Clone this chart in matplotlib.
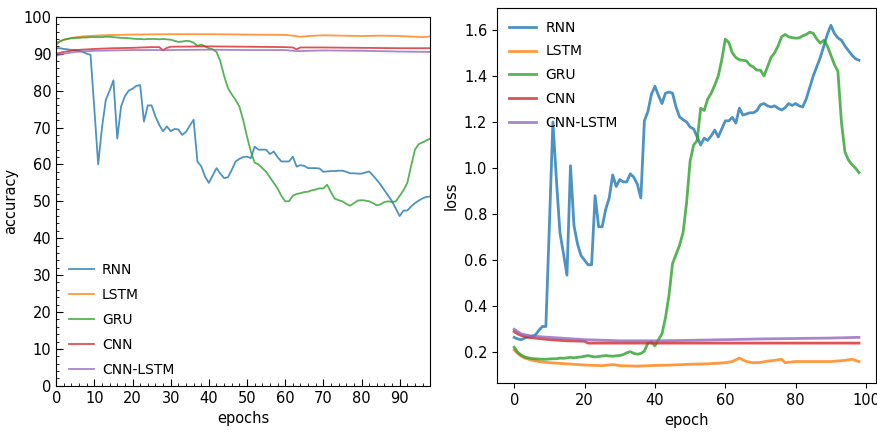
import matplotlib
matplotlib.use('Agg')
import matplotlib.pyplot as plt
from matplotlib.ticker import AutoMinorLocator

names = ['RNN', 'LSTM', 'GRU', 'CNN', 'CNN-LSTM']
colors = ['#1f77b4', '#ff7f0e', '#2ca02c', '#d62728', '#9467bd']

epochs = list(range(99))

# accuracy, one value per epoch
rnn_acc = [91.5, 91.5, 91.3, 91.2, 91.0, 91.0, 90.8, 90.5, 90.0, 89.7,
           75.0, 60.0, 70.0, 77.5, 80.0, 82.8, 67.0, 75.7, 78.5, 80.0,
           80.5, 81.3, 81.5, 71.6, 76.0, 76.0, 73.0, 70.7, 69.0, 70.3,
           69.0, 69.6, 69.5, 68.0, 68.8, 70.5, 72.1, 60.8, 59.5, 56.7,
           55.0, 57.0, 59.0, 57.5, 56.3, 56.5, 58.5, 60.8, 61.5, 62.0,
           62.1, 61.7, 64.8, 64.0, 64.0, 64.0, 62.8, 63.5, 62.0, 60.8,
           60.8, 60.8, 62.1, 59.4, 59.8, 59.6, 59.0, 59.0, 59.0, 58.9,
           58.0, 58.1, 58.2, 58.2, 58.3, 58.3, 58.0, 57.6, 57.6, 57.5,
           57.5, 57.8, 58.1, 57.0, 55.8, 54.5, 53.0, 51.5, 50.0, 48.0,
           46.0, 47.5, 47.5, 48.6, 49.5, 50.2, 50.8, 51.2, 51.3]
gru_acc = [92.5, 93.3, 93.8, 94.0, 94.2, 94.3, 94.3, 94.4, 94.4, 94.5,
           94.5, 94.5, 94.5, 94.6, 94.6, 94.5, 94.4, 94.3, 94.3, 94.2,
           94.1, 94.0, 94.0, 93.9, 94.0, 94.0, 94.0, 93.9, 94.0, 93.9,
           93.8, 93.5, 93.2, 93.3, 93.5, 93.4, 93.0, 92.1, 92.5, 92.0,
           91.5, 91.2, 90.5, 88.0, 84.0, 80.7, 79.0, 77.5, 75.7, 72.0,
           67.5, 63.5, 60.5, 60.0, 59.0, 58.0, 56.5, 55.0, 53.5, 51.5,
           50.0, 50.0, 51.5, 52.0, 52.2, 52.5, 52.6, 53.0, 53.2, 53.5,
           53.5, 54.5, 52.5, 50.7, 50.3, 50.0, 49.3, 48.8, 49.5, 50.2,
           50.3, 50.2, 50.0, 49.5, 48.9, 49.2, 49.8, 50.0, 49.8, 50.0,
           51.5, 53.0, 55.0, 59.6, 64.0, 65.5, 66.0, 66.5, 67.0]
# flatter curves, read at a few epochs
lstm_acc_ep = [0, 2, 4, 7, 12, 20, 30, 40, 50, 60, 62, 64, 66, 70, 75, 80, 85, 90, 94, 96, 98]
lstm_acc = [93.0, 93.8, 94.3, 94.7, 95.0, 95.2, 95.3, 95.3, 95.2, 95.1, 94.9, 94.6, 94.8, 95.0, 94.9, 94.8, 94.9, 94.8, 94.6, 94.5, 94.7]
cnn_acc_ep = [0, 2, 5, 10, 15, 20, 25, 27, 28, 29, 30, 40, 50, 60, 62, 63, 64, 70, 80, 90, 98]
cnn_acc = [90.0, 90.5, 91.0, 91.3, 91.5, 91.6, 91.8, 91.8, 90.9, 91.6, 91.9, 92.0, 91.9, 91.8, 91.7, 91.2, 91.7, 91.7, 91.6, 91.5, 91.5]
cnnl_acc_ep = [0, 2, 5, 10, 20, 30, 40, 50, 60, 63, 70, 80, 90, 98]
cnnl_acc = [89.5, 90.0, 90.5, 90.8, 91.0, 91.0, 91.1, 91.0, 91.0, 90.7, 90.9, 90.8, 90.6, 90.5]

# loss, one value per epoch
rnn_loss = [0.265, 0.258, 0.255, 0.262, 0.268, 0.270, 0.275, 0.295, 0.312, 0.312,
            0.75, 1.20, 0.95, 0.72, 0.63, 0.535, 1.01, 0.75, 0.67, 0.62,
            0.60, 0.58, 0.58, 0.88, 0.745, 0.745, 0.82, 0.87, 0.97, 0.92,
            0.95, 0.94, 0.94, 0.975, 0.96, 0.93, 0.87, 1.205, 1.245, 1.32,
            1.355, 1.315, 1.28, 1.325, 1.33, 1.325, 1.265, 1.222, 1.21, 1.20,
            1.178, 1.17, 1.135, 1.10, 1.13, 1.12, 1.14, 1.165, 1.135, 1.17,
            1.205, 1.205, 1.22, 1.195, 1.26, 1.23, 1.235, 1.24, 1.24, 1.25,
            1.275, 1.28, 1.27, 1.265, 1.27, 1.26, 1.252, 1.262, 1.28, 1.272,
            1.28, 1.27, 1.265, 1.30, 1.35, 1.40, 1.44, 1.48, 1.53, 1.58,
            1.62, 1.585, 1.565, 1.555, 1.53, 1.51, 1.49, 1.475, 1.468]
gru_loss = [0.222, 0.200, 0.188, 0.180, 0.176, 0.173, 0.172, 0.171, 0.170, 0.170,
            0.171, 0.172, 0.172, 0.175, 0.174, 0.176, 0.178, 0.176, 0.178, 0.180,
            0.183, 0.186, 0.182, 0.180, 0.182, 0.184, 0.186, 0.184, 0.183, 0.185,
            0.186, 0.190, 0.198, 0.203, 0.195, 0.192, 0.195, 0.205, 0.240, 0.245,
            0.228, 0.255, 0.280, 0.350, 0.448, 0.585, 0.625, 0.665, 0.72, 0.85,
            1.03, 1.10, 1.12, 1.26, 1.25, 1.30, 1.325, 1.36, 1.40, 1.47,
            1.56, 1.545, 1.50, 1.48, 1.47, 1.468, 1.465, 1.447, 1.438, 1.425,
            1.425, 1.40, 1.44, 1.48, 1.50, 1.53, 1.57, 1.58, 1.57, 1.566,
            1.564, 1.565, 1.574, 1.58, 1.59, 1.585, 1.56, 1.542, 1.555, 1.53,
            1.49, 1.45, 1.42, 1.20, 1.07, 1.035, 1.015, 1.00, 0.98]
lstm_loss_ep = [0, 1, 2, 3, 5, 7, 10, 15, 20, 25, 28, 30, 35, 40, 45, 50, 55, 60, 62, 64, 66, 68, 70, 72, 74, 76, 77, 80, 85, 90, 94, 96, 98]
lstm_loss = [0.210, 0.195, 0.183, 0.175, 0.166, 0.160, 0.155, 0.150, 0.145, 0.142, 0.147, 0.142, 0.140, 0.143, 0.145, 0.148, 0.150, 0.155, 0.160, 0.175, 0.160, 0.155, 0.156, 0.162, 0.165, 0.170, 0.155, 0.160, 0.160, 0.160, 0.165, 0.170, 0.160]
cnn_loss_ep = [0, 1, 2, 4, 7, 10, 15, 20, 21, 30, 40, 50, 60, 70, 80, 90, 98]
cnn_loss = [0.290, 0.280, 0.273, 0.265, 0.260, 0.255, 0.250, 0.248, 0.240, 0.240, 0.240, 0.240, 0.240, 0.240, 0.240, 0.240, 0.240]
cnnl_loss_ep = [0, 1, 2, 5, 10, 15, 20, 30, 40, 50, 60, 70, 80, 90, 98]
cnnl_loss = [0.300, 0.290, 0.280, 0.270, 0.265, 0.260, 0.255, 0.250, 0.250, 0.252, 0.255, 0.258, 0.260, 0.262, 0.265]

acc_x = [epochs, lstm_acc_ep, epochs, cnn_acc_ep, cnnl_acc_ep]
acc_y = [rnn_acc, lstm_acc, gru_acc, cnn_acc, cnnl_acc]
loss_x = [epochs, lstm_loss_ep, epochs, cnn_loss_ep, cnnl_loss_ep]
loss_y = [rnn_loss, lstm_loss, gru_loss, cnn_loss, cnnl_loss]

fig = plt.figure(figsize=(8.78, 4.32), dpi=100)
ax1 = fig.add_axes([0.064, 0.107, 0.426, 0.854])
ax2 = fig.add_axes([0.566, 0.113, 0.432, 0.868])

for i in range(5):
    ax1.plot(acc_x[i], acc_y[i], color=colors[i], lw=1.3, alpha=0.8, label=names[i])
ax1.set_xlim(0, 98)
ax1.set_ylim(0, 100)
ax1.set_xticks(range(0, 91, 10))
ax1.set_yticks(range(0, 101, 10))
ax1.xaxis.set_minor_locator(AutoMinorLocator(5))
ax1.yaxis.set_minor_locator(AutoMinorLocator(5))
ax1.tick_params(which='both', direction='in', labelsize=10.5)
ax1.tick_params(which='major', length=5)
ax1.tick_params(which='minor', length=2.5)
ax1.set_xlabel('epochs', fontsize=10.5)
ax1.set_ylabel('accuracy', fontsize=10.5)
ax1.legend(loc='lower left', frameon=False, fontsize=10, handlelength=1.8,
           handletextpad=0.6, labelspacing=0.8, bbox_to_anchor=(0.0, -0.01))

for i in range(5):
    ax2.plot(loss_x[i], loss_y[i], color=colors[i], lw=2, alpha=0.8, label=names[i])
ax2.set_xticks(range(0, 101, 20))
ax2.set_yticks([0.2, 0.4, 0.6, 0.8, 1.0, 1.2, 1.4, 1.6])
ax2.tick_params(labelsize=10.5)
ax2.set_xlabel('epoch', fontsize=10.5)
ax2.set_ylabel('loss', fontsize=10.5)
ax2.legend(loc='upper left', frameon=False, fontsize=10, handlelength=1.9,
           handletextpad=0.7, labelspacing=0.7)

plt.savefig('out.png', dpi=100)
